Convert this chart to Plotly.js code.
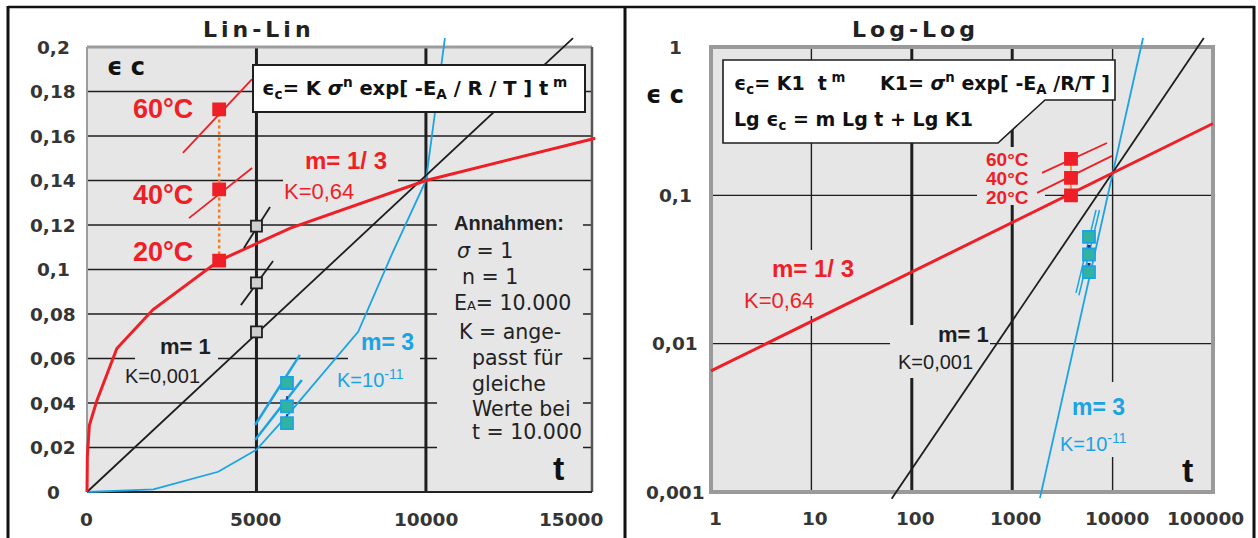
<!DOCTYPE html>
<html>
<head>
<meta charset="utf-8">
<script src="https://cdn.plot.ly/plotly-3.0.1.min.js"></script>
<style>
  html, body { margin: 0; padding: 0; background: #fff; }
  #chart { width: 1258px; height: 538px; }
</style>
</head>
<body>
<div id="chart"></div>
<script>
// ---------------- values ----------------
// tick values and labels
const linTicksX = [0, 5000, 10000, 15000];
const linTickTextX = ['0', '5000', '10000', '15000'];
const linTicksY = [0, 0.02, 0.04, 0.06, 0.08, 0.1, 0.12, 0.14, 0.16, 0.18, 0.2];
const linTickTextY = ['0', '0,02', '0,04', '0,06', '0,08', '0,1', '0,12', '0,14', '0,16', '0,18', '0,2'];
const logTicksX = [1, 10, 100, 1000, 10000, 100000];
const logTickTextX = ['1', '10', '100', '1000', '10000', '100000'];
const logTicksY = [0.001, 0.01, 0.1, 1];
const logTickTextY = ['0,001', '0,01', '0,1', '1'];

// Lin-Lin: creep strain over time for m = 1/3, 1, 3
const linT_m13 = [0, 10, 70, 290, 880, 1950, 3900, 6000, 10000, 15000];
const linE_m13 = [0, 0.016, 0.030, 0.041, 0.0645, 0.082, 0.104, 0.1186, 0.140, 0.159];
const linT_m1 = [0, 14340];
const linE_m1 = [0, 0.204];
const linT_m3 = [0, 1960, 3870, 5000, 6000, 7000, 8000, 9000, 10000, 10560];
const linE_m3 = [0, 0.0012, 0.0091, 0.019, 0.036, 0.054, 0.072, 0.107, 0.140, 0.204];

// Lin-Lin: curves at higher temperature (short pieces)
const linT_m13_60 = [2830, 4870];  const linE_m13_60 = [0.1524, 0.1856];
const linT_m13_40 = [3010, 4870];  const linE_m13_40 = [0.1231, 0.1456];
const linT_m1_60 = [4630, 5400];   const linE_m1_60 = [0.1097, 0.1281];
const linT_m1_40 = [4540, 5490];   const linE_m1_40 = [0.0840, 0.1038];
const linT_m3_60 = [4960, 6280];   const linE_m3_60 = [0.0301, 0.0616];
const linT_m3_40 = [4960, 6340];   const linE_m3_40 = [0.0234, 0.0503];

// Lin-Lin: strain at 20 / 40 / 60 °C
const linMarkT_m13 = 3900; const linMarkE_m13 = [0.104, 0.136, 0.172];
const linMarkT_m1 = 5000;  const linMarkE_m1 = [0.072, 0.094, 0.1195];
const linMarkT_m3 = 5900;  const linMarkE_m3 = [0.031, 0.0385, 0.049];

// Log-Log: straight lines
const logT_m13 = [1, 100000];   const logE_m13 = [0.00655, 0.305];
const logT_m1 = [63, 81000];    const logE_m1 = [0.0009, 1.15];
const logT_m3 = [1890, 20100];  const logE_m3 = [0.00091, 1.15];
const logT_m13_60 = [1980, 8790]; const logE_m13_60 = [0.1416, 0.2255];
const logT_m13_40 = [1770, 9860]; const logE_m13_40 = [0.1038, 0.1846];
const logT_m3_60 = [4320, 6840];  const logE_m3_60 = [0.0220, 0.0798];
const logT_m3_40 = [4620, 7410];  const logE_m3_40 = [0.0212, 0.0796];
const logMarkT_m13 = 3850; const logMarkE_m13 = [0.1, 0.131, 0.176];
const logMarkT_m3 = 5820;  const logMarkE_m3 = [0.0304, 0.0399, 0.0525];

// ---------------- page geometry ----------------
const W = 1258, H = 538, PAD = 14;
const RED = '#ee1f26', BLUE = '#1ba3e3', INK = '#1e1e1e', BG = '#e6e6e7';
const TEAL = '#31b3a4', ORANGE = '#f47b20', NAVY = '#1f2a80';

// plotting frames (page pixels) and their axis extents (log axes in decades)
const LIN = {left: 87, right: 592, top: 47, bottom: 492, x: [0, 14900], y: [0, 0.2]};
const LOG = {left: 711, right: 1213, top: 47, bottom: 492, x: [0, 5], y: [-3, 0]};

function frame(f) {
  const sx = (f.x[1] - f.x[0]) / (f.right - f.left);
  const sy = (f.y[1] - f.y[0]) / (f.bottom - f.top);
  return {
    xd: [(f.left - PAD) / W, (f.right + PAD) / W],
    xr: [f.x[0] - PAD * sx, f.x[1] + PAD * sx],
    yd: [1 - (f.bottom + PAD) / H, 1 - (f.top - PAD) / H],
    yr: [f.y[0] - PAD * sy, f.y[1] + PAD * sy],
    ux: p => f.x[0] + (p - f.left) * sx,     // page px -> axis units
    uy: p => f.y[0] + (f.bottom - p) * sy,
    pxOf: u => f.left + (u - f.x[0]) / sx    // axis units -> page px
  };
}
const FL = frame(LIN), FG = frame(LOG);
const lg = Math.log10;
const X = p => p / W, Y = p => 1 - p / H;

// ---------------- traces ----------------
function curve(x, y, color, width, xa, ya, dash) {
  return {type: 'scatter', mode: 'lines', x, y, xaxis: xa, yaxis: ya,
          line: {color, width, dash: dash || 'solid'}, hoverinfo: 'skip', showlegend: false};
}
function marks(t, ys, fill, border, size, xa, ya) {
  return {type: 'scatter', mode: 'markers', x: ys.map(() => t), y: ys, xaxis: xa, yaxis: ya,
          marker: {symbol: 'square', size, color: fill, line: {color: border, width: 1.8}},
          hoverinfo: 'skip', showlegend: false};
}
function link(t, ys, color, width, dash, xa, ya) {
  return curve([t, t], [Math.min(...ys), Math.max(...ys)], color, width, xa, ya, dash);
}

const traces = [
  // Lin-Lin
  curve(linT_m3, linE_m3, BLUE, 1.8, 'x', 'y'),
  curve(linT_m1, linE_m1, INK, 1.8, 'x', 'y'),
  curve(linT_m13, linE_m13, RED, 3, 'x', 'y'),
  curve(linT_m13_60, linE_m13_60, RED, 1.8, 'x', 'y'),
  curve(linT_m13_40, linE_m13_40, RED, 1.8, 'x', 'y'),
  curve(linT_m1_60, linE_m1_60, INK, 1.8, 'x', 'y'),
  curve(linT_m1_40, linE_m1_40, INK, 1.8, 'x', 'y'),
  curve(linT_m3_60, linE_m3_60, BLUE, 2.5, 'x', 'y'),
  curve(linT_m3_40, linE_m3_40, BLUE, 2.5, 'x', 'y'),
  link(linMarkT_m13, linMarkE_m13, ORANGE, 2.5, 'dot', 'x', 'y'),
  link(linMarkT_m3, linMarkE_m3, NAVY, 1.5, 'dash', 'x', 'y'),
  marks(linMarkT_m13, linMarkE_m13, RED, RED, 12, 'x', 'y'),
  marks(linMarkT_m1, linMarkE_m1, '#cfcfcf', INK, 11, 'x', 'y'),
  marks(linMarkT_m3, linMarkE_m3, TEAL, BLUE, 12, 'x', 'y'),
  // Log-Log
  curve(logT_m3, logE_m3, BLUE, 1.8, 'x2', 'y2'),
  curve(logT_m1, logE_m1, INK, 1.8, 'x2', 'y2'),
  curve(logT_m13, logE_m13, RED, 3, 'x2', 'y2'),
  curve(logT_m13_60, logE_m13_60, RED, 1.8, 'x2', 'y2'),
  curve(logT_m13_40, logE_m13_40, RED, 1.8, 'x2', 'y2'),
  curve(logT_m3_60, logE_m3_60, BLUE, 1.5, 'x2', 'y2'),
  curve(logT_m3_40, logE_m3_40, BLUE, 1.5, 'x2', 'y2'),
  link(logMarkT_m13, logMarkE_m13, ORANGE, 1.5, 'solid', 'x2', 'y2'),
  link(logMarkT_m3, logMarkE_m3, NAVY, 3, 'dash', 'x2', 'y2'),
  marks(logMarkT_m13, logMarkE_m13, RED, RED, 12, 'x2', 'y2'),
  marks(logMarkT_m3, logMarkE_m3, TEAL, BLUE, 12, 'x2', 'y2')
];

// ---------------- shapes ----------------
const shapes = [];
function seg(xref, yref, x0, y0, x1, y1, color, width, layer) {
  shapes.push({type: 'line', xref, yref, x0, y0, x1, y1, layer: layer || 'below',
               line: {color, width}});
}
function box(xref, yref, x0, y0, x1, y1, fill, layer) {
  shapes.push({type: 'rect', xref, yref, x0, y0, x1, y1, layer: layer || 'below',
               fillcolor: fill, line: {width: 0}});
}

// Lin-Lin panel
box('x', 'y', LIN.x[0], LIN.y[0], LIN.x[1], LIN.y[1], BG);
linTicksY.slice(1, -1).forEach(v => seg('x', 'y', LIN.x[0], v, LIN.x[1], v, INK, 1.3));
[5000, 10000].forEach(v => seg('x', 'y', v, LIN.y[0], v, LIN.y[1], INK, 3));
// clear space behind the labels
[[283, 150, 398, 200], [135, 338, 218, 372], [348, 333, 420, 372], [437, 198, 583, 482]]
  .forEach(r => box('x', 'y', FL.ux(r[0]), FL.uy(r[3]), FL.ux(r[2]), FL.uy(r[1]), BG));
seg('x', 'y', LIN.x[0], LIN.y[1], LIN.x[1], LIN.y[1], '#9c9c9c', 3);
seg('x', 'y', LIN.x[0], LIN.y[0], LIN.x[0], LIN.y[1], '#9c9c9c', 2);
seg('x', 'y', LIN.x[1], LIN.y[0], LIN.x[1], LIN.y[1], '#555', 2.5);
seg('x', 'y', LIN.x[0], LIN.y[0], LIN.x[1], LIN.y[0], '#222', 2);

// Log-Log panel (shape positions on log axes are data values)
const gx0 = 10 ** LOG.x[0], gx1 = 10 ** LOG.x[1], gy0 = 10 ** LOG.y[0], gy1 = 10 ** LOG.y[1];
box('x2', 'y2', gx0, gy0, gx1, gy1, BG);
[[10, 1.4], [100, 3], [1000, 3], [10000, 1.4]].forEach(g => seg('x2', 'y2', g[0], gy0, g[0], gy1, INK, g[1]));
[0.01, 0.1].forEach(v => seg('x2', 'y2', gx0, v, gx1, v, INK, 1.4));
[[740, 250, 862, 316], [890, 325, 990, 378], [1058, 382, 1132, 457], [977, 147, 1045, 205]]
  .forEach(r => box('x2', 'y2', 10 ** FG.ux(r[0]), 10 ** FG.uy(r[3]), 10 ** FG.ux(r[2]), 10 ** FG.uy(r[1]), BG));
shapes.push({type: 'rect', xref: 'x2', yref: 'y2', x0: gx0, y0: gy0, x1: gx1, y1: gy1,
             layer: 'below', fillcolor: 'rgba(0,0,0,0)', line: {color: '#9a9a9a', width: 4}});

// formula boxes
shapes.push({type: 'rect', xref: 'paper', yref: 'paper', x0: X(253), x1: X(585), y0: Y(112), y1: Y(65),
             layer: 'above', fillcolor: '#fff', line: {color: INK, width: 2}});
const pb = [[723, 60], [1115, 60], [1115, 100], [1045, 100], [998, 143], [723, 143]];
shapes.push({type: 'path', xref: 'paper', yref: 'paper', layer: 'above', fillcolor: '#fff',
             line: {color: INK, width: 1.6},
             path: pb.map((p, i) => (i ? 'L' : 'M') + X(p[0]).toFixed(5) + ',' + Y(p[1]).toFixed(5)).join(' ') + ' Z'});

// outer frames
[[8, 7, 1255, 7, 2.5], [8, 6, 8, 545, 3], [625, 6, 625, 545, 3], [1254, 6, 1254, 545, 3]]
  .forEach(s => seg('paper', 'paper', X(s[0]), Y(s[1]), X(s[2]), Y(s[3]), '#111', s[4], 'above'));

// ---------------- text ----------------
const ann = [];
const SANS = 'Liberation Sans, Arial, sans-serif';
const WIDE = 'DejaVu Sans, Verdana, sans-serif';
function label(text, px, py, size, color, opts) {
  const o = Object.assign({family: SANS, anchor: 'center'}, opts || {});
  ann.push({text, x: X(px), y: Y(py), xref: 'paper', yref: 'paper', showarrow: false,
            xanchor: o.anchor, yanchor: 'middle', align: o.anchor === 'right' ? 'right' : 'left',
            font: {family: o.family, size, color}});
}

// tick labels
const TICK = {family: WIDE, size: 18.5, color: '#353535'};
function tick(text, x, xref, y, yref) {
  ann.push({text: '<b>' + text + '</b>', x, y, xref, yref, showarrow: false,
            xanchor: 'center', yanchor: 'middle', font: TICK});
}
linTicksX.forEach((v, i) => tick(linTickTextX[i], X(Math.min(FL.pxOf(v), 571)), 'paper', Y(519), 'paper'));
linTicksY.forEach((v, i) => tick(linTickTextY[i], X(53), 'paper', v, 'y'));
logTicksX.forEach((v, i) => tick(logTickTextX[i], X(Math.min(FG.pxOf(lg(v)) + 4, 1205)), 'paper', Y(518), 'paper'));
logTicksY.forEach((v, i) => tick(logTickTextY[i], X(675), 'paper', lg(v), 'y2'));

// titles and axis names
label('<b>Lin-Lin</b>', 245, 29, 22, '#222', {family: WIDE});
label('<b>Log-Log</b>', 901, 29, 22, '#222', {family: WIDE});
label('<b>ϵ c</b>', 126, 67, 24, '#111', {family: WIDE});
label('<b>ϵ c</b>', 665, 95, 24, '#111', {family: WIDE});
label('<b>t</b>', 558, 468, 34, '#111');
label('<b>t</b>', 1187, 470, 34, '#111');

// formulas
label('<b>ϵ<sub>c</sub>= K <i>σ</i><sup>n</sup> exp[ -E<sub>A</sub> / R / T ] t<sup> m</sup></b>', 260, 88, 19.5, '#111', {anchor: 'left', family: WIDE});
label('<b>ϵ<sub>c</sub>= K1  t<sup> m</sup></b>', 732, 83, 19, '#111', {anchor: 'left', family: WIDE});
label('<b>K1= <i>σ</i><sup>n</sup> exp[ -E<sub>A</sub> /R/T ]</b>', 878, 83, 19, '#111', {anchor: 'left', family: WIDE});
label('<b>Lg ϵ<sub>c</sub> = m Lg t + Lg K1</b>', 732, 120, 19, '#111', {anchor: 'left', family: WIDE});

// Lin-Lin labels
label('<b>60°C</b>', 163, 109, 27, RED);
label('<b>40°C</b>', 163, 195, 27, RED);
label('<b>20°C</b>', 163, 252, 27, RED);
label('<b>m= 1/ 3</b>', 346, 160, 24, RED);
label('K=0,64', 319, 191, 22, RED);
label('<b>m= 1</b>', 185, 346, 22, INK);
label('K=0,001', 162, 376, 20, INK);
label('<b>m= 3</b>', 387, 342, 23, BLUE);
label('K=10<sup>-11</sup>', 370, 378, 20, BLUE);

// assumptions
label('<b>Annahmen:</b>', 452, 223, 20, '#222', {anchor: 'left'});
const assume = [['<i>σ</i> = 1', 455, 251], ['n = 1', 460, 277],
  ['E<span style="font-size:13px">A</span>= 10.000', 452, 303], ['K = ange-', 457, 332],
  ['passt für', 470, 358], ['gleiche', 470, 384], ['Werte bei', 470, 409], ['t = 10.000', 470, 432]];
assume.forEach(a => label(a[0], a[1], a[2], 20.5, '#222', {anchor: 'left', family: WIDE}));

// Log-Log labels
label('<b>60°C</b>', 1031, 159, 19, RED, {anchor: 'right'});
label('<b>40°C</b>', 1031, 178, 19, RED, {anchor: 'right'});
label('<b>20°C</b>', 1031, 197, 19, RED, {anchor: 'right'});
label('<b>m= 1/ 3</b>', 813, 268, 24, RED);
label('K=0,64', 779, 300, 22, RED);
label('<b>m= 1</b>', 963, 334, 22, INK);
label('K=0,001', 935, 362, 20, INK);
label('<b>m= 3</b>', 1098, 407, 23, BLUE);
label('K=10<sup>-11</sup>', 1093, 442, 20, BLUE);

// ---------------- layout ----------------
const hidden = {visible: false, showgrid: false, zeroline: false, fixedrange: true};
const layout = {
  width: W, height: H, margin: {l: 0, r: 0, t: 0, b: 0},
  paper_bgcolor: '#fff', plot_bgcolor: 'rgba(0,0,0,0)', showlegend: false,
  xaxis: Object.assign({domain: FL.xd, range: FL.xr, anchor: 'y'}, hidden),
  yaxis: Object.assign({domain: FL.yd, range: FL.yr, anchor: 'x'}, hidden),
  xaxis2: Object.assign({type: 'log', domain: FG.xd, range: FG.xr, anchor: 'y2'}, hidden),
  yaxis2: Object.assign({type: 'log', domain: FG.yd, range: FG.yr, anchor: 'x2'}, hidden),
  shapes, annotations: ann
};

Plotly.newPlot('chart', traces, layout, {staticPlot: true, displayModeBar: false}).then(gd => {
  // open up the letter spacing of the panel titles
  gd.querySelectorAll('.annotation-text').forEach(t => {
    if (t.textContent === 'Lin-Lin' || t.textContent === 'Log-Log') t.style.letterSpacing = '4px';
  });
});
</script>
</body>
</html>
